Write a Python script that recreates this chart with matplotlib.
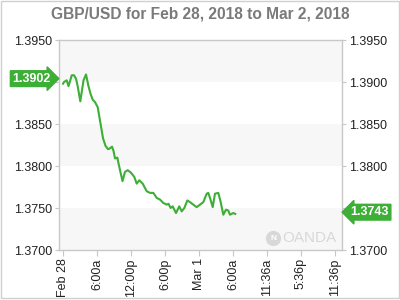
import numpy as np
import matplotlib
matplotlib.use("Agg")
import matplotlib.pyplot as plt
import matplotlib.transforms as mtransforms
from matplotlib.patches import Rectangle

plt.rcParams['font.family'] = ['Liberation Sans', 'DejaVu Sans']

# hours since Feb 28 00:00 and GBP/USD rate
hours = [0.0, 0.18, 0.65, 0.97, 1.54, 1.94, 2.29, 2.56, 3.05, 3.62, 4.06, 4.46,
         4.85, 5.24, 5.65, 6.12, 6.58, 7.06, 7.5, 7.94, 8.29, 8.65, 8.91, 9.18,
         9.58, 10.06, 10.5, 10.94, 11.42, 12.0, 12.58, 13.0, 13.46, 14.06, 14.77,
         15.35, 15.94, 16.54, 17.12, 17.7, 18.3, 18.62, 19.0, 19.36, 19.94, 20.52,
         20.95, 21.41, 21.94, 22.41, 23.0, 23.59, 24.18, 24.76, 25.36, 25.64,
         25.94, 26.42, 26.82, 27.41, 27.83, 28.29, 28.76, 29.17, 29.47, 30.05, 30.4]
rate = [1.3898, 1.3900, 1.3902, 1.3895, 1.3908, 1.3908, 1.3904, 1.3896, 1.3877,
        1.3902, 1.3909, 1.3896, 1.3886, 1.3879, 1.3876, 1.3870, 1.3852, 1.3833,
        1.3824, 1.3820, 1.3821, 1.3823, 1.3818, 1.3809, 1.3810, 1.3795, 1.3782,
        1.3793, 1.3795, 1.3792, 1.3787, 1.3779, 1.3783, 1.3779, 1.3770, 1.3768,
        1.3768, 1.3762, 1.3760, 1.3756, 1.3754, 1.3755, 1.3750, 1.3752, 1.3744,
        1.3752, 1.3746, 1.3750, 1.3759, 1.3757, 1.3754, 1.3751, 1.3754, 1.3757,
        1.3767, 1.3768, 1.3762, 1.3751, 1.3767, 1.3768, 1.3757, 1.3742, 1.3748,
        1.3747, 1.3742, 1.3744, 1.3743]

open_rate = 1.3902
last_rate = 1.3743

tick_hours = [0, 6, 12, 18, 24, 30, 36, 42, 48]
tick_labels = ['Feb 28', '6:00a', '12:00p', '6:00p', 'Mar 1', '6:00a',
               '11:36a', '5:36p', '11:36p']
y_ticks = [1.3700, 1.3750, 1.3800, 1.3850, 1.3900, 1.3950]

green = '#3dae36'

fig = plt.figure(figsize=(4, 3), dpi=100)
fig.patches.append(Rectangle((0.002, 0.006), 0.995, 0.99, transform=fig.transFigure,
                             fill=False, edgecolor='#d0d0d0', lw=1))
ax = fig.add_axes([59 / 400, 50 / 300, 283 / 400, 210 / 300])

# alternating bands
for i in range(len(y_ticks) - 1):
    if i % 2 == 0:
        ax.axhspan(y_ticks[i], y_ticks[i + 1], color='#f7f7f7', lw=0, zorder=0)

ax.plot(hours, rate, color=green, lw=1.5, zorder=2)

ax.set_xlim(-0.71, 49.24)
ax.set_ylim(1.3700, 1.3950)
ax.set_yticks(y_ticks)
ax.set_yticklabels(['%.4f' % v for v in y_ticks])
ax.set_xticks(tick_hours)
ax.set_xticklabels(tick_labels, rotation=90)

for s in ax.spines.values():
    s.set_color('#c8c8c8')
    s.set_linewidth(1)
ax.tick_params(axis='y', which='both', left=True, right=True, labelright=True,
               length=3, width=0.8, color='#c8c8c8', labelsize=9,
               labelcolor='#222222', pad=2)
ax.tick_params(axis='x', length=4, width=0.8, color='#c8c8c8', labelsize=9,
               labelcolor='#222222', pad=2)

fig.suptitle('GBP/USD for Feb 28, 2018 to Mar 2, 2018', x=0.5, y=0.978,
             fontsize=11.2, fontweight='bold', color='#7a7a7a')

# price tags
trans = mtransforms.blended_transform_factory(ax.transAxes, ax.transData)
ax.text(-0.03, open_rate + 0.0002, '%.4f' % open_rate, transform=trans, ha='right',
        va='center', color='white', fontsize=9, fontweight='bold', zorder=5,
        clip_on=False,
        bbox=dict(boxstyle='rarrow,pad=0.15', fc=green, ec=green))
ax.text(1.03, last_rate + 0.0002, '%.4f' % last_rate, transform=trans, ha='left',
        va='center', color='white', fontsize=9, fontweight='bold', zorder=5,
        clip_on=False,
        bbox=dict(boxstyle='larrow,pad=0.15', fc=green, ec=green))

# watermark
ax.plot([0.757], [0.057], 'o', ms=11, mfc='#d8d8d8', mec='none',
        transform=ax.transAxes, zorder=1)
ax.text(0.757, 0.057, 'N', transform=ax.transAxes, ha='center', va='center',
        color='white', fontsize=6, fontweight='bold', zorder=1)
ax.text(0.79, 0.057, 'OANDA', transform=ax.transAxes, ha='left', va='center',
        color='#d8d8d8', fontsize=11, zorder=1)

fig.savefig('out.png', dpi=100)
